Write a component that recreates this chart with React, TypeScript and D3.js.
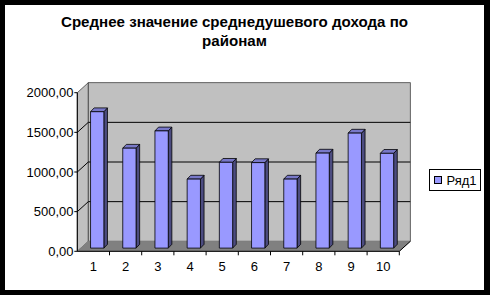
import React from "react";
import * as d3 from "d3";

const categories = ["1", "2", "3", "4", "5", "6", "7", "8", "9", "10"];
const values = [1720, 1260, 1478, 870, 1082, 1078, 870, 1198, 1450, 1195];
const yTicks = [0, 500, 1000, 1500, 2000];
const seriesName = "Ряд1";
const titleLines = ["Среднее значение среднедушевого дохода по", "районам"];

const W = 490;
const H = 295;

export default function App() {
  const x0 = 77.3;
  const x1 = 399.3;
  const wallDx = 11;
  const wallDy = -10;
  const barDx = 3.8;
  const barDy = -3.2;
  const depthDx = 3.6;
  const depthDy = -3.8;

  const x = d3.scaleBand<string>().domain(categories).range([x0, x1]).padding(0);
  const y = d3.scaleLinear().domain([0, 2000]).range([251.3, 92.7]);
  const barW = 13.3;
  const fmt = (v: number) => d3.format(".2f")(v).replace(".", ",");

  const floorY = y(0);
  const topY = y(2000);

  return (
    <svg width={W} height={H} style={{ position: "absolute", left: 0, top: 0 }} fontFamily="'Liberation Sans', Arial, sans-serif">
      <rect x={0} y={0} width={W} height={H} fill="#000" />
      <rect x={5} y={5} width={479} height={285} fill="#fff" />
      {titleLines.map((t, i) => (
        <text key={i} x={234.5} y={27 + i * 19} textAnchor="middle" fontWeight="bold" fontSize={15.1} fill="#000">
          {t}
        </text>
      ))}
      {/* side wall */}
      <polygon
        points={`${x0},${floorY} ${x0},${topY} ${x0 + wallDx},${topY + wallDy} ${x0 + wallDx},${floorY + wallDy}`}
        fill="#c0c0c0"
        stroke="#404040"
        strokeWidth={0.8}
      />
      {/* back wall */}
      <rect
        x={x0 + wallDx}
        y={topY + wallDy}
        width={x1 - x0}
        height={floorY - topY}
        fill="#c0c0c0"
        stroke="#404040"
        strokeWidth={0.8}
      />
      {/* floor */}
      <polygon
        points={`${x0},${floorY} ${x1},${floorY} ${x1 + wallDx},${floorY + wallDy} ${x0 + wallDx},${floorY + wallDy}`}
        fill="#808080"
        stroke="#808080"
        strokeWidth={0.8}
      />
      {/* gridlines */}
      {yTicks.filter((v) => v > 0 && v < 2000).map((v) => (
        <g key={v}>
          <line x1={x0} y1={y(v)} x2={x0 + wallDx} y2={y(v) + wallDy} stroke="#000" strokeWidth={1} />
          <line x1={x0 + wallDx} y1={y(v) + wallDy} x2={x1 + wallDx} y2={y(v) + wallDy} stroke="#000" strokeWidth={1} />
        </g>
      ))}
      {/* bars */}
      {categories.map((c, i) => {
        const v = values[i];
        const cx = (x(c) as number) + x.bandwidth() / 2;
        const left = cx - barW / 2 + barDx;
        const right = left + barW;
        const bottom = y(0) + barDy;
        const top = y(v) + barDy;
        return (
          <g key={c} stroke="#000" strokeWidth={0.8} strokeLinejoin="round">
            <polygon
              points={`${right},${bottom} ${right},${top} ${right + depthDx},${top + depthDy} ${right + depthDx},${bottom + depthDy}`}
              fill="#4c4c80"
            />
            <polygon
              points={`${left},${top} ${right},${top} ${right + depthDx},${top + depthDy} ${left + depthDx},${top + depthDy}`}
              fill="#7878c8"
            />
            <rect x={left} y={top} width={barW} height={bottom - top} fill="#9999ff" />
          </g>
        );
      })}
      {/* y axis */}
      <line x1={x0} y1={floorY} x2={x0} y2={topY} stroke="#000" strokeWidth={1} />
      {yTicks.map((v) => (
        <g key={v}>
          <line x1={x0 - 3} y1={y(v)} x2={x0} y2={y(v)} stroke="#000" strokeWidth={1} />
          <text x={73.5} y={y(v) + 4.5} textAnchor="end" fontSize={13} fill="#000">
            {fmt(v)}
          </text>
        </g>
      ))}
      {/* x axis */}
      <line x1={x0} y1={floorY} x2={x1} y2={floorY} stroke="#000" strokeWidth={1} />
      <line x1={x1} y1={floorY} x2={x1 + wallDx} y2={floorY + wallDy} stroke="#000" strokeWidth={1} />
      {categories.map((c) => (
        <line key={"t" + c} x1={(x(c) as number) + x.bandwidth()} y1={floorY} x2={(x(c) as number) + x.bandwidth()} y2={floorY + 4} stroke="#000" strokeWidth={1} />
      ))}
      {categories.map((c) => (
        <text key={"l" + c} x={(x(c) as number) + x.bandwidth() / 2} y={271} textAnchor="middle" fontSize={13} fill="#000">
          {c}
        </text>
      ))}
      {/* legend */}
      <rect x={429.5} y={169.5} width={51} height={21} fill="#fff" stroke="#000" strokeWidth={1} />
      <rect x={434.5} y={176.5} width={7} height={7} fill="#9999ff" stroke="#000" strokeWidth={1} />
      <text x={446.5} y={184.5} fontSize={13} fill="#000">
        {seriesName}
      </text>
    </svg>
  );
}
